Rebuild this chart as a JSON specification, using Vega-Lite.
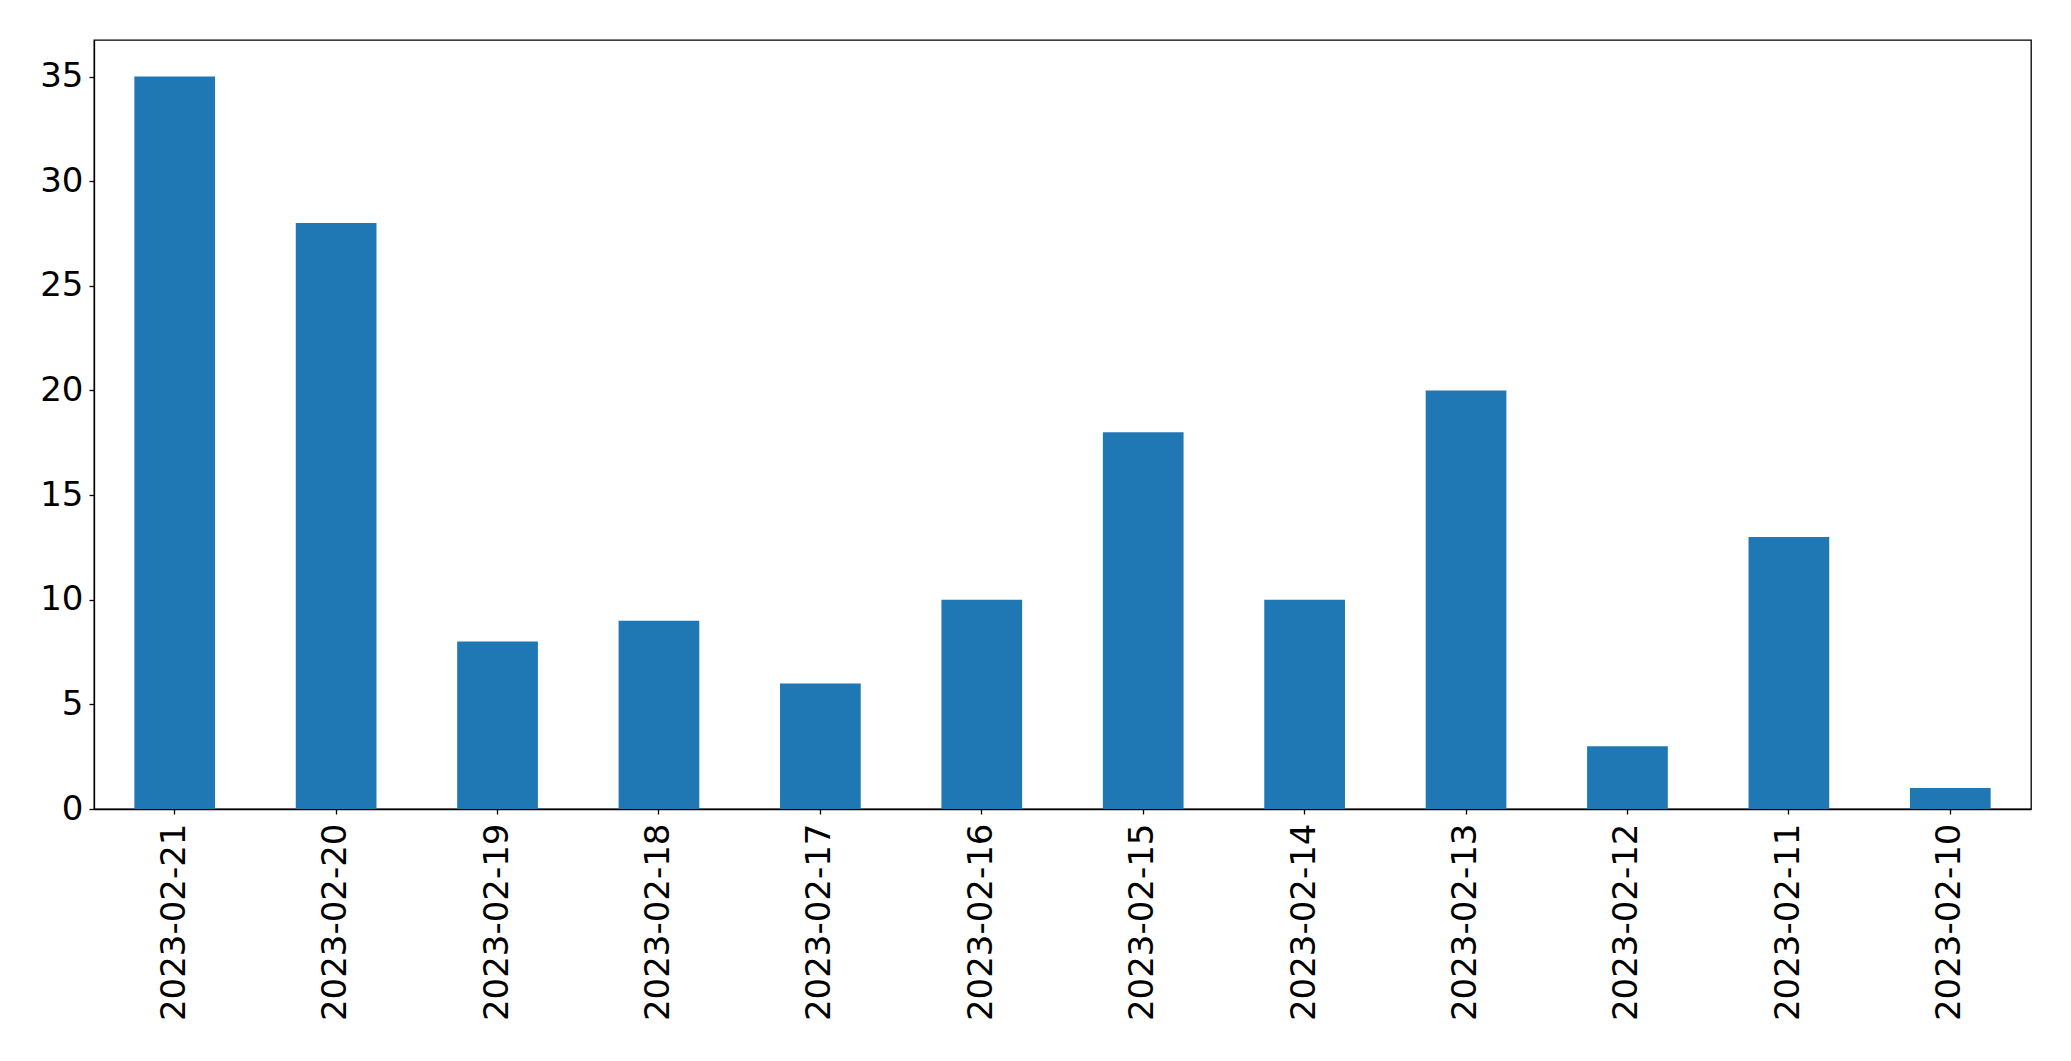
{
  "$schema": "https://vega.github.io/schema/vega-lite/v6.json",
  "width": 1937,
  "height": 769,
  "autosize": "none",
  "padding": {"left": 94, "top": 40, "right": 40, "bottom": 252},
  "background": "white",
  "config": {
    "view": {"stroke": "black", "strokeWidth": 1.3},
    "axis": {
      "labelFont": "DejaVu Sans",
      "labelFontSize": 34,
      "labelColor": "black",
      "labelLimit": 0,
      "tickColor": "black",
      "tickSize": 5,
      "tickWidth": 1.3,
      "domainColor": "black",
      "domainWidth": 1.3,
      "grid": false,
      "title": null
    }
  },
  "data": {
    "values": [
      {"date": "2023-02-21", "count": 35},
      {"date": "2023-02-20", "count": 28},
      {"date": "2023-02-19", "count": 8},
      {"date": "2023-02-18", "count": 9},
      {"date": "2023-02-17", "count": 6},
      {"date": "2023-02-16", "count": 10},
      {"date": "2023-02-15", "count": 18},
      {"date": "2023-02-14", "count": 10},
      {"date": "2023-02-13", "count": 20},
      {"date": "2023-02-12", "count": 3},
      {"date": "2023-02-11", "count": 13},
      {"date": "2023-02-10", "count": 1}
    ]
  },
  "mark": {"type": "bar", "color": "#1f77b4"},
  "encoding": {
    "x": {
      "field": "date",
      "type": "nominal",
      "sort": null,
      "scale": {"paddingInner": 0.5, "paddingOuter": 0.25},
      "axis": {"labelAngle": -90, "labelPadding": 9}
    },
    "y": {
      "field": "count",
      "type": "quantitative",
      "scale": {"domain": [0, 36.75], "nice": false, "zero": true},
      "axis": {"values": [0, 5, 10, 15, 20, 25, 30, 35], "labelPadding": 6}
    }
  }
}
